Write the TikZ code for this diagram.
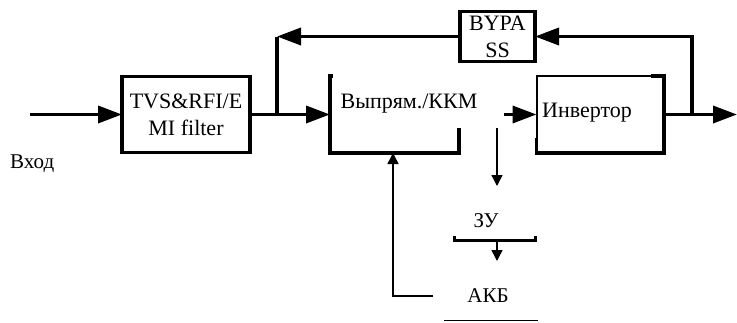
\documentclass[tikz,border=0pt]{standalone}
\usepackage{fontspec}
\setmainfont{Liberation Serif}
\usetikzlibrary{positioning, arrows.meta}

\begin{document}
\begin{tikzpicture}[x=1pt, y=-1pt,
    thick line/.style={line width=3.6pt},
    thin line/.style={line width=1.5pt},
    box/.style={draw, thick line, outer sep=0pt, inner sep=0pt, align=center,
      font=\fontsize{22}{27}\selectfont},
    lbl/.style={inner sep=0pt, font=\fontsize{21}{25}\selectfont},
    bigarrow/.style={thick line, -{Triangle[length=24pt, width=17pt]}},
    smallarrow/.style={thin line, -{Triangle[length=11pt, width=11pt]}}]
  \useasboundingbox (0,0) rectangle (737,322);

  \node[box, minimum width=128pt, minimum height=76pt] (filter) at (186,114.5) {TVS\&RFI/E\\MI filter};
  \node[box, minimum width=75pt, minimum height=50pt] (bypass) at (497.5,36.5) {BYPA\\SS};
  \node[outer sep=0pt, minimum width=129pt, minimum height=77pt] (rect) at (394.5,114.5) {};
  \node[box, line width=2pt, minimum width=127.5pt, minimum height=76.5pt] (inv) at (600.25,114.5) {};

  \node[lbl, font=\fontsize{22}{26}\selectfont, anchor=base] (recttext) at (409,108) {Выпрям./ККМ};
  \node[lbl, font=\fontsize{22}{26}\selectfont, anchor=base west] (invtext) at (542,117) {Инвертор};
  \node[lbl, anchor=base west] (vhod) at (10,168) {Вход};
  \node[lbl, anchor=base] (zu) at (486,227) {ЗУ};
  \node[lbl, anchor=base] (akb) at (488,302) {АКБ};

  \coordinate (in) at (30,114.5);
  \coordinate (j1) at (277,114.5);
  \coordinate (j2) at (692,114.5);
  \coordinate (out) at (737,114.5);
  \coordinate (link) at (504,114.5);
  \coordinate (zutop) at (497,128);
  \coordinate (zuin) at (497,186);
  \coordinate (zuout) at (497,241);
  \coordinate (akbin) at (497,261);
  \coordinate (fb) at (433,296);

  % main line
  \draw[bigarrow] (in) -- (filter.west);
  \draw[bigarrow] (filter) -- (rect);
  \draw[bigarrow] (link) -- (inv.west);
  \draw[bigarrow] (inv.east) -- (out);

  % bypass
  \draw[bigarrow] (bypass.west) -- (bypass.west -| j1);
  \draw[thick line] (bypass.west -| j1) -- (j1);
  \draw[bigarrow] (j2) |- (bypass.east);

  % charger and battery
  \draw[smallarrow] (zutop) -- (zuin);
  \draw[thick line] (454.5,236) -- (454.5,240.5) -- (535.5,240.5) -- (535.5,236);
  \draw[smallarrow] (zuout) -- (akbin);
  \draw[thin line] (444,320.5) -- (538,320.5);
  \draw[smallarrow] (fb) -| ([xshift=-1.5pt]rect.south);

  % broken borders
  \draw[thick line] ([xshift=3pt]rect.north west) -- (rect.north west) -- (rect.south west)
    -- (rect.south east) -- ([yshift=25pt]rect.south east);
  \draw[thick line] ([xshift=-13pt]inv.north east) -- (inv.north east) -- (inv.south east)
    -- (inv.south west) -- ([yshift=15pt]inv.south west);
\end{tikzpicture}
\end{document}
